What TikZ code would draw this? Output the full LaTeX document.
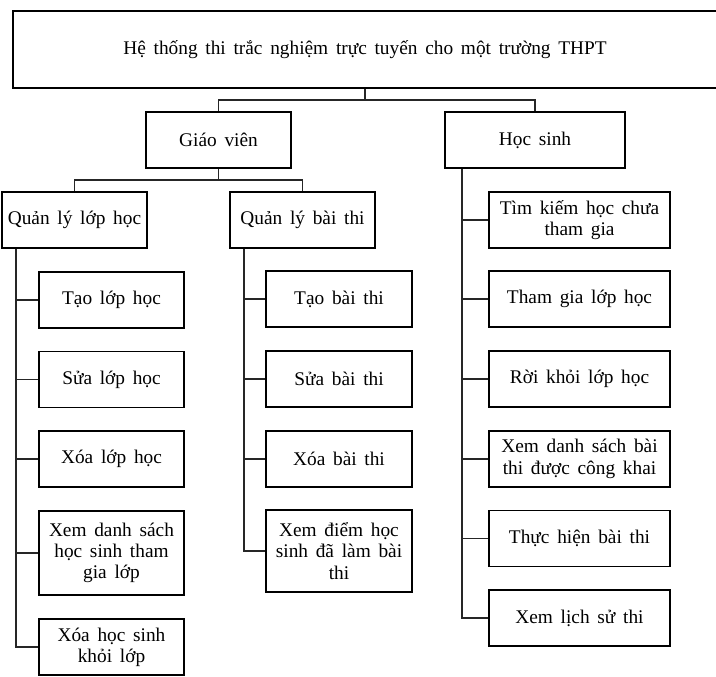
\documentclass[tikz,border=0pt]{standalone}
\usepackage{fontspec}
\setmainfont{Liberation Serif}[WordSpace=1.6]
\usetikzlibrary{calc}
\tikzset{
  box/.style={draw, line width=1.4pt, align=center, inner sep=1pt, minimum height=42pt, font=\fontsize{14.5}{16}\selectfont},
  boxL/.style={box, minimum width=108.75pt},
  boxM/.style={box, minimum width=109.5pt},
  boxR/.style={box, minimum width=136pt},
  link/.style={line width=1.1pt, draw=black!85}
}
\begin{document}
\begin{tikzpicture}[x=0.75pt, y=-0.75pt]
\clip (0,0) rectangle (716,676);
% top levels
\node[box, minimum width=528pt, minimum height=57.75pt] (sys) at (365,49.5) {Hệ thống thi trắc nghiệm trực tuyến cho một trường THPT};
\node[box, minimum width=108.75pt] (gv) at (218.5,140) {Giáo viên};
\node[box, minimum width=135pt] (hs) at (535,140) {Học sinh};
\node[boxL] (qlh) at (74.5,220) {Quản lý lớp học};
\node[boxL] (qbt) at (302.5,220) {Quản lý bài thi};

% teacher: classes
\node[boxL] (l1) at (111.5,300) {Tạo lớp học};
\node[boxL] (l2) at (111.5,379.5) {Sửa lớp học};
\node[boxL] (l3) at (111.5,459) {Xóa lớp học};
\node[boxL, minimum height=63pt] (l4) at (111.5,553) {Xem danh sách\\học sinh tham\\gia lớp};
\node[boxL] (l5) at (111.5,647) {Xóa học sinh\\khỏi lớp};

% teacher: exams
\node[boxM] (m1) at (339,299) {Tạo bài thi};
\node[boxM] (m2) at (339,379) {Sửa bài thi};
\node[boxM] (m3) at (339,459) {Xóa bài thi};
\node[boxM, minimum height=61.5pt] (m4) at (339,551) {Xem điểm học\\sinh đã làm bài\\thi};

% student
\node[boxR] (r1) at (579.5,220) {Tìm kiếm học chưa\\tham gia};
\node[boxR] (r2) at (579.5,299) {Tham gia lớp học};
\node[boxR] (r3) at (579.5,379) {Rời khỏi lớp học};
\node[boxR] (r4) at (579.5,459) {Xem danh sách bài\\thi được công khai};
\node[boxR] (r5) at (579.5,538.5) {Thực hiện bài thi};
\node[boxR] (r6) at (579.5,618) {Xem lịch sử thi};

% connectors
\coordinate (j1) at (365,100);
\draw[link] (sys.south) -- (j1);
\draw[link] (gv.north) |- (j1) -| (hs.north);
\coordinate (j2) at (218.5,180);
\draw[link] (gv.south) -- (j2);
\draw[link] (qlh.north) |- (j2) -| (qbt.north);

\coordinate (bl) at ($(qlh.south west)+(15,0)$);
\coordinate (bm) at ($(qbt.south west)+(15,0)$);
\coordinate (br) at ($(hs.south west)+(18,0)$);
\foreach \n in {l1,l2,l3,l4,l5} \draw[link] (bl) |- (\n.west);
\foreach \n in {m1,m2,m3,m4} \draw[link] (bm) |- (\n.west);
\foreach \n in {r1,r2,r3,r4,r5,r6} \draw[link] (br) |- (\n.west);
\end{tikzpicture}
\end{document}
